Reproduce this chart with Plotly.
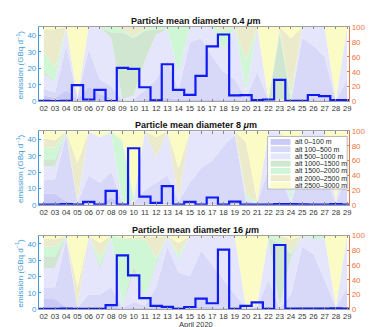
import plotly.graph_objects as go

# ---------------- data ----------------
days = list(range(2, 30))
day_labels = [f"{d:02d}" for d in days]
em_days = list(range(1, 31))

alt_names = ["alt 0\u2013100 m", "alt 100\u2013500 m", "alt 500\u20131000 m", "alt 1000\u20131500 m",
             "alt 1500\u20132000 m", "alt 2000\u20132500 m", "alt 2500\u20133000 m"]

# emission (GBq/d), days 01..30
em_04 = [0, 0.3, 0.2, 0.3, 9.9, 1.2, 7.0, 0.2, 20.3, 19.7, 8.6, 0.7, 22.5, 7.0, 4.0,
         15.5, 33.3, 40.5, 3.7, 3.8, 0.8, 1.2, 13.1, 0.3, 0.4, 3.9, 3.2, 0.8, 0.8, 0]
em_8 = [0, 0.2, 0.2, 0.5, 0.1, 1.8, 0.1, 8.5, 0.1, 34.6, 5.0, 1.2, 11.5, 0.1, 1.8,
        0.1, 4.5, 0.2, 2.0, 0.1, 0.1, 0.2, 0.4, 0.4, 0.3, 0.2, 0.2, 0.5, 0.2, 0]
em_16 = [0, 0.3, 0.3, 0.4, 0.3, 0.3, 0.3, 2.5, 32.9, 20.7, 6.8, 2.1, 1.5, 0.2, 1.4,
         6.5, 3.7, 36.5, 0.3, 2.1, 4.2, 0.3, 39.3, 0.4, 0.4, 0.4, 0.4, 0.5, 0.4, 0]

# portion emitted (%) per altitude band, days 02..29
p04_L1 = [8, 5, 15, 3, 20, 10, 5, 1, 1, 3, 5, 5, 3, 3, 3, 3, 3, 3, 2, 3, 1, 1, 1, 2, 2, 3, 0, 5]
p04_L2 = [9, 7, 60, 2, 50, 20, 15, 1, 2, 12, 25, 50, 12, 77, 82, 57, 37, 27, 3, 37, 1, 1, 0, 83, 73, 57, 1, 25]
p04_L3 = [20, 14, 25, 1, 30, 70, 65, 1, 5, 40, 60, 42, 23, 20, 15, 40, 30, 70, 8, 60, 1, 1, 1, 15, 25, 40, 1, 70]
p04_L4 = [3, 2, 0, 0, 0, 0, 8, 90, 77, 40, 7, 0, 0, 0, 0, 0, 0, 0, 0, 0, 0, 89, 0, 0, 0, 0, 0, 0]
p04_L5 = [27, 17, 0, 0, 0, 0, 7, 4, 2, 3, 3, 3, 62, 0, 0, 0, 25, 0, 42, 0, 0, 5, 6, 0, 0, 0, 0, 0]
p04_L6 = [30, 52, 0, 0, 0, 0, 0, 3, 13, 2, 0, 0, 0, 0, 0, 0, 5, 0, 45, 0, 0, 3, 77, 0, 0, 0, 0, 0]
p04_L7 = [3, 3, 0, 94, 0, 0, 0, 0, 0, 0, 0, 0, 0, 0, 0, 0, 0, 0, 0, 0, 97, 0, 15, 0, 0, 0, 98, 0]

p8_L1 = [15, 15, 5, 2, 5, 3, 10, 1, 1, 2, 3, 3, 2, 3, 3, 3, 3, 3, 3, 1, 3, 3, 1, 3, 3, 3, 1, 3]
p8_L2 = [18, 20, 90, 1, 35, 27, 35, 1, 1, 18, 27, 37, 3, 27, 47, 57, 77, 92, 3, 1, 47, 37, 1, 47, 42, 37, 1, 37]
p8_L3 = [19, 17, 5, 0, 60, 62, 52, 1, 3, 80, 35, 60, 3, 70, 50, 40, 20, 5, 4, 0, 50, 60, 2, 50, 55, 60, 1, 60]
p8_L4 = [10, 10, 0, 0, 0, 0, 0, 0, 0, 0, 0, 0, 0, 0, 0, 0, 0, 0, 0, 0, 0, 0, 0, 0, 0, 0, 0, 0]
p8_L5 = [16, 16, 0, 2, 0, 0, 3, 82, 5, 0, 0, 0, 0, 0, 0, 0, 0, 0, 5, 1, 0, 0, 56, 0, 0, 0, 2, 0]
p8_L6 = [12, 10, 0, 52, 0, 0, 0, 3, 2, 0, 27, 0, 42, 0, 0, 0, 0, 0, 70, 2, 0, 0, 20, 0, 0, 0, 3, 0]
p8_L7 = [10, 12, 0, 43, 0, 8, 0, 12, 88, 0, 8, 0, 50, 0, 0, 0, 0, 0, 15, 95, 0, 0, 20, 0, 0, 0, 92, 0]

p16_L1 = [14, 14, 3, 1, 3, 3, 5, 1, 2, 2, 3, 3, 3, 3, 3, 3, 2, 2, 1, 2, 3, 1, 2, 3, 3, 3, 1, 3]
p16_L2 = [16, 16, 92, 1, 17, 17, 25, 1, 8, 3, 27, 82, 47, 42, 77, 57, 38, 18, 1, 1, 37, 1, 18, 82, 72, 37, 1, 27]
p16_L3 = [26, 26, 5, 1, 80, 35, 65, 2, 40, 10, 30, 15, 18, 55, 20, 40, 60, 80, 0, 2, 55, 1, 50, 15, 20, 57, 1, 70]
p16_L4 = [16, 16, 0, 0, 0, 5, 2, 2, 10, 3, 5, 0, 0, 0, 0, 0, 0, 0, 0, 0, 2, 87, 5, 0, 2, 0, 0, 0]
p16_L5 = [13, 13, 0, 0, 0, 10, 3, 90, 35, 77, 5, 0, 7, 0, 0, 0, 0, 0, 0, 0, 3, 7, 3, 0, 3, 3, 0, 0]
p16_L6 = [11, 10, 0, 27, 0, 20, 0, 2, 2, 5, 28, 0, 15, 0, 0, 0, 0, 0, 1, 3, 0, 3, 17, 0, 0, 0, 1, 0]
p16_L7 = [4, 5, 0, 70, 0, 10, 0, 2, 3, 0, 2, 0, 10, 0, 0, 0, 0, 0, 97, 92, 0, 0, 5, 0, 0, 0, 96, 0]

diameters = ["0.4", "8", "16"]

# ---------------- styling ----------------
W, H = 374, 327
alt_colors = ["#cacaf6", "#d8d8f8", "#e5e5fb", "#d0e6d0", "#cff7d6", "#ebebcc", "#fbfbc6"]
blue_line = "#0f1cf2"
ax_blue = "#3d9ad6"
ax_orange = "#e8763f"
FONT = "Liberation Sans, Arial, sans-serif"


def px_x(px):
    return px / W


def px_y(py):
    return 1 - py / H


panels = [
    (em_04, [p04_L1, p04_L2, p04_L3, p04_L4, p04_L5, p04_L6, p04_L7]),
    (em_8, [p8_L1, p8_L2, p8_L3, p8_L4, p8_L5, p8_L6, p8_L7]),
    (em_16, [p16_L1, p16_L2, p16_L3, p16_L4, p16_L5, p16_L6, p16_L7]),
]
panel_px = [(15.5, 92.0), (122.6, 198.3), (230.0, 305.7)]
x_left, x_right = 31, 343

fig = go.Figure()
layout = dict(
    width=W, height=H, margin=dict(l=0, r=0, t=0, b=0),
    paper_bgcolor="white", plot_bgcolor="white", showlegend=False,
    font=dict(family=FONT, size=8, color="#333"),
)
annotations = []
shapes = []

for i, (em, layers) in enumerate(panels):
    r = i + 1
    xa = "x" if r == 1 else f"x{r}"
    ya_p = "y" if r == 1 else f"y{2 * r - 1}"
    ya_e = f"y{2 * r}"
    for name, col, vals in zip(alt_names, alt_colors, layers):
        fig.add_trace(go.Scatter(x=days, y=vals, xaxis=xa, yaxis=ya_p, stackgroup=f"s{r}",
                                 mode="none", fillcolor=col, name=name, hoverinfo="skip"))
    fig.add_trace(go.Scatter(x=em_days, y=em, xaxis=xa, yaxis=ya_e, mode="lines",
                             line=dict(color=blue_line, width=2.2, shape="hvh"), name="emission"))

    top, bot = panel_px[i]
    dom = [px_y(bot), px_y(top)]
    xkey = "xaxis" if r == 1 else f"xaxis{r}"
    ypkey = "yaxis" if r == 1 else f"yaxis{2 * r - 1}"
    yekey = f"yaxis{2 * r}"
    layout[xkey] = dict(domain=[px_x(x_left), px_x(x_right)], range=[1.56, 29.18], anchor=ya_p,
                        tickmode="array", tickvals=days, ticktext=day_labels, tickangle=0,
                        ticks="inside", ticklen=2.5, tickcolor="#888", tickwidth=0.8,
                        showline=True, linecolor="#a0a0a0", linewidth=0.8, mirror="ticks",
                        tickfont=dict(size=7.6, color="#333", family=FONT),
                        showgrid=False, zeroline=False)
    layout[ypkey] = dict(domain=dom, anchor=xa, side="right", range=[0, 100],
                         tickmode="array", tickvals=[0, 20, 40, 60, 80, 100],
                         ticks="inside", ticklen=2.5, tickcolor=ax_orange,
                         showline=True, linecolor=ax_orange, linewidth=0.8,
                         tickfont=dict(size=8, color=ax_orange, family=FONT),
                         showgrid=False, zeroline=False)
    layout[yekey] = dict(overlaying=ya_p, anchor=xa, side="left", range=[0, 45],
                         tickmode="array", tickvals=[0, 10, 20, 30, 40],
                         ticks="inside", ticklen=2.5, tickcolor=ax_blue,
                         showline=True, linecolor=ax_blue, linewidth=0.8,
                         tickfont=dict(size=8, color=ax_blue, family=FONT),
                         showgrid=False, zeroline=False)

    # panel title
    annotations.append(dict(x=px_x(189), y=px_y(top - 6), xref="paper", yref="paper",
                            text=f"<b>Particle mean diameter {diameters[i]} <i>\u03bc</i>m</b>",
                            showarrow=False, xanchor="center", yanchor="middle",
                            font=dict(size=9, color="#111", family=FONT)))
    mid = (top + bot) / 2
    annotations.append(dict(x=px_x(12), y=px_y(mid), xref="paper", yref="paper",
                            text="emission (GBq d<sup>\u22121</sup>)", textangle=-90,
                            showarrow=False, xanchor="center", yanchor="middle",
                            font=dict(size=8, color=ax_blue, family=FONT)))
    annotations.append(dict(x=px_x(362), y=px_y(mid), xref="paper", yref="paper",
                            text="portion emitted (%)", textangle=-90,
                            showarrow=False, xanchor="center", yanchor="middle",
                            font=dict(size=8, color=ax_orange, family=FONT)))

annotations.append(dict(x=px_x(189), y=px_y(327), xref="paper", yref="paper", text="April 2020",
                        showarrow=False, xanchor="center", yanchor="bottom", borderpad=0,
                        font=dict(size=7.5, color="#333", family=FONT)))

# manual legend box inside middle panel
lx0, lx1, ly0, ly1 = 261, 341, 128, 182
shapes.append(dict(type="rect", xref="paper", yref="paper", x0=px_x(lx0), x1=px_x(lx1),
                   y0=px_y(ly1), y1=px_y(ly0), fillcolor="white", line=dict(color="#a8a8a8", width=0.8)))
for k, (name, col) in enumerate(zip(alt_names, alt_colors)):
    cy = 133.6 + k * 7.45
    shapes.append(dict(type="rect", xref="paper", yref="paper", x0=px_x(264), x1=px_x(284),
                       y0=px_y(cy + 3), y1=px_y(cy - 3), fillcolor=col, line=dict(width=0)))
    annotations.append(dict(x=px_x(286.5), y=px_y(cy), xref="paper", yref="paper", text=name,
                            showarrow=False, xanchor="left", yanchor="middle",
                            font=dict(size=7, color="#222", family=FONT)))

layout["annotations"] = annotations
layout["shapes"] = shapes
fig.update_layout(**layout)
fig.write_html("out.html")
